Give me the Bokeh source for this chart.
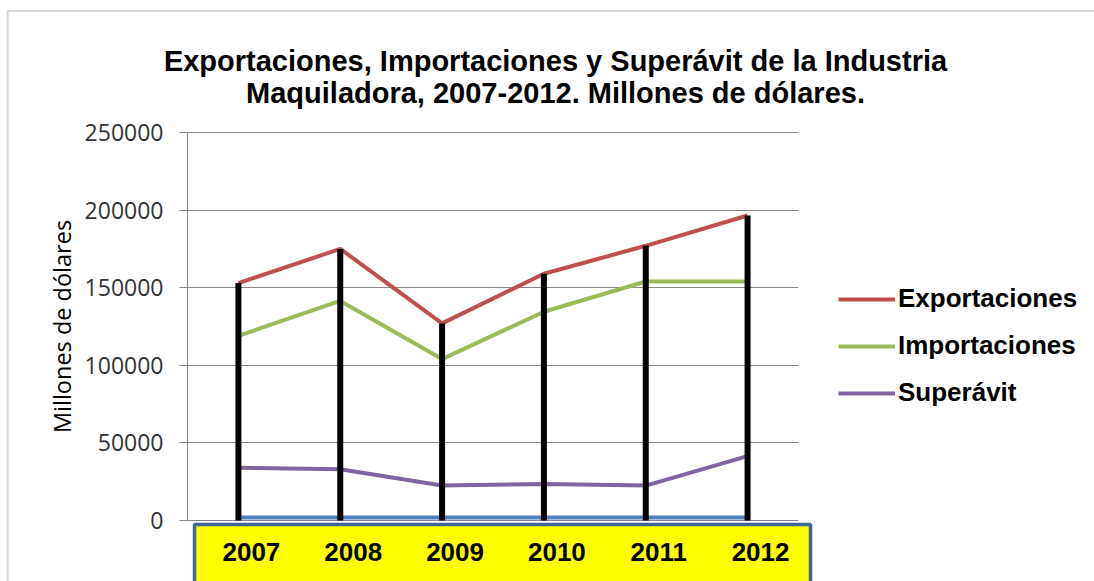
from bokeh.plotting import figure
from bokeh.models import (Range1d, FixedTicker, Legend, LegendItem, LinearAxis, Grid,
                          Label, LabelSet, BoxAnnotation, ColumnDataSource,
                          NumeralTickFormatter)
from bokeh.embed import file_html
from bokeh.resources import INLINE
from bokeh.core.properties import value

# ---------------- data ----------------
years = ["2007", "2008", "2009", "2010", "2011", "2012"]
exportaciones = [153000, 175000, 127000, 159000, 177000, 196500]
importaciones = [119000, 141500, 104000, 134500, 154000, 154000]
superavit = [34000, 33000, 22500, 23500, 22500, 41500]
anio_series = [2007, 2008, 2009, 2010, 2011, 2012]   # year column plotted as a series (blue)
base_series = [0, 0, 0, 0, 0, 0]
y_ticks = [0, 50000, 100000, 150000, 200000, 250000]
series_names = ["Exportaciones", "Importaciones", "Superávit"]
title_lines = ["Exportaciones, Importaciones y Superávit de la Industria",
               "Maquiladora, 2007-2012. Millones de dólares."]
y_label = "Millones de dólares"

# ---------------- layout (pixel geometry of the page) ----------------
W, H = 1094, 581
X0, X1 = 187, 798          # left / right edge of the plotting area
Y0, Y1 = 520, 132          # pixel rows of the lowest / highest y tick
n = len(years)
cat_px = (X1 - X0) / n


def xd(px):
    return (px - X0) / cat_px - 0.5


def yd(py):
    return (Y0 - py) * (y_ticks[-1] - y_ticks[0]) / (Y0 - Y1) + y_ticks[0]


xs = list(range(n))

p = figure(width=W, height=H,
           x_range=Range1d(xd(0), xd(W)), y_range=Range1d(yd(H), yd(0)),
           x_axis_type=None, y_axis_type=None,
           output_backend="svg", toolbar_location=None, min_border=0)
p.outline_line_color = None
p.background_fill_color = "white"
p.border_fill_color = "white"

# y axis (drawn at the left edge of the plotting area)
yax = LinearAxis(fixed_location=xd(X0), bounds=(y_ticks[0], y_ticks[-1]),
                 ticker=FixedTicker(ticks=y_ticks),
                 formatter=NumeralTickFormatter(format="0"))
yax.axis_line_color = "#868686"
yax.major_tick_line_color = "#868686"
yax.major_tick_out = 8
yax.major_tick_in = 0
yax.minor_tick_line_color = None
yax.major_label_text_font = "Open Sans"
yax.major_label_text_font_size = "23px"
yax.major_label_text_color = "#333333"
yax.major_label_standoff = 16
yax.axis_label = y_label
yax.axis_label_text_font = "Open Sans"
yax.axis_label_text_font_size = "23.5px"
yax.axis_label_text_font_style = "normal"
yax.axis_label_text_color = "black"
yax.axis_label_standoff = 4
p.add_layout(yax, "left")

# horizontal gridlines limited to the plotting area
grid_done = False
try:
    g = Grid(dimension=1, ticker=FixedTicker(ticks=y_ticks),
             bounds=(y_ticks[0], y_ticks[-1]), cross_bounds=(xd(X0 - 8), xd(X1)),
             grid_line_color="#868686", grid_line_width=1)
    p.add_layout(g)
    grid_done = True
except Exception:
    grid_done = False
if not grid_done:
    p.segment(x0=[xd(X0 - 8)] * len(y_ticks), y0=y_ticks,
              x1=[xd(X1)] * len(y_ticks), y1=y_ticks,
              line_color="#868686", line_width=1)

# outer chart border and yellow year box (behind the series)
p.add_layout(BoxAnnotation(left=xd(7), right=xd(W + 20), top=yd(10.5), bottom=yd(H + 50),
                           fill_alpha=0, line_color="#7F7F7F", line_width=2.2,
                           level="underlay"))
p.add_layout(BoxAnnotation(left=xd(194), right=xd(810), top=yd(524), bottom=yd(H + 50),
                           fill_color="#FFFF00", fill_alpha=1,
                           line_color="#41669A", line_width=3.5, line_alpha=1,
                           level="underlay"))

# series
r_anio = p.line(xs, anio_series, color="#4F81BD", line_width=4)
r_exp = p.line(xs, exportaciones, color="#C0504D", line_width=4)
r_imp = p.line(xs, importaciones, color="#9BBB59", line_width=4)
r_sup = p.line(xs, superavit, color="#8064A2", line_width=4)
p.segment(x0=xs, y0=base_series, x1=xs, y1=exportaciones,
          line_color="black", line_width=6, line_cap="butt")

# year labels inside the yellow box
label_y = [yd(551)] * n
src = ColumnDataSource(dict(x=xs, y=label_y, year=years))
p.add_layout(LabelSet(x="x", y="y", text="year", source=src, x_offset=13,
                      text_align="center", text_baseline="middle",
                      text_font=value("Liberation Sans"), text_font_style="bold",
                      text_font_size="26px", text_color="black"))

# title (two centred lines)
for i, line in enumerate(title_lines):
    p.add_layout(Label(x=xd(555), y=yd(60 + 32 * i), text=line,
                       text_align="center", text_baseline="alphabetic",
                       text_font="Liberation Sans", text_font_style="bold",
                       text_font_size="29px", text_color="black"))

# legend
legend = Legend(items=[LegendItem(label=series_names[0], renderers=[r_exp]),
                       LegendItem(label=series_names[1], renderers=[r_imp]),
                       LegendItem(label=series_names[2], renderers=[r_sup])],
                location=(838, H - 408),
                padding=0, margin=0, spacing=16,
                glyph_width=57, glyph_height=30, label_height=30,
                label_standoff=3,
                label_text_font="Liberation Sans", label_text_font_style="bold",
                label_text_font_size="26px", label_text_color="black",
                border_line_color=None, background_fill_alpha=0)
p.add_layout(legend)

open("out.html", "w").write(file_html(p, INLINE))
